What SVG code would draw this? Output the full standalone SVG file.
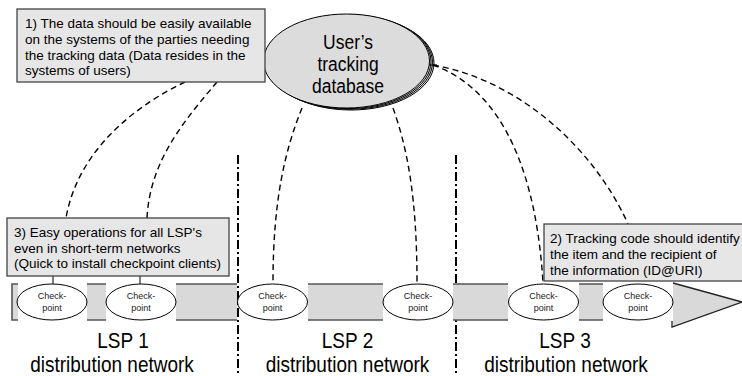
<svg xmlns="http://www.w3.org/2000/svg" width="742" height="376" viewBox="0 0 742 376">
<style>
text{font-family:"Liberation Sans",Arial,sans-serif;fill:#000}
.box{fill:#e6e6e6;stroke:#444;stroke-width:1.3}
.bt{font-size:13.5px}
.cp{fill:#fff;stroke:#000;stroke-width:1}
.ct{font-size:9px;text-anchor:middle;fill:#222}
.seg{fill:#d9d9d9}
.edge{stroke:#555;stroke-width:1.6;fill:none}
.dash{fill:none;stroke:#000;stroke-width:1.4;stroke-dasharray:6 4}
.sep{stroke:#000;stroke-width:2;stroke-dasharray:9 3 2 3;fill:none}
.lsp{font-size:19px;text-anchor:middle}
.dbt{font-size:17.5px;text-anchor:middle}
.db{fill:#dcdcdc;stroke:#000;stroke-width:1}
</style>
<rect width="742" height="376" fill="#fff"/>
<g id="separators">
<line class="sep" x1="238" y1="155" x2="238" y2="376"/>
<line class="sep" x1="456" y1="155" x2="456" y2="376"/>
</g>
<g id="database">
<ellipse class="db" cx="351" cy="63" rx="83" ry="47"/>
<ellipse class="db" cx="349.5" cy="62.3" rx="83" ry="47"/>
<ellipse class="db" cx="348" cy="61.6" rx="83" ry="47"/>
<ellipse class="db" cx="346.5" cy="61" rx="83" ry="47"/>
<text class="dbt" transform="translate(348,49) scale(1,1.2)">User’s</text>
<text class="dbt" transform="translate(348,71) scale(1,1.2)">tracking</text>
<text class="dbt" transform="translate(348,93) scale(1,1.2)">database</text>
</g>
<g id="connectors">
<path class="dash" d="M185,82 C135,106 78,150 66,218"/>
<path class="dash" d="M217,82 C185,120 150,160 147,218"/>
<path class="dash" d="M302,108 C285,150 273,200 273,283"/>
<path class="dash" d="M393,108 C408,150 417,200 417,283"/>
<path class="dash" d="M433,65 C490,85 535,150 543,283"/>
<path class="dash" d="M433,65 C520,80 595,150 628,224"/>
<line x1="429" y1="65" x2="437" y2="65" stroke="#000" stroke-width="1"/>
<line x1="53" y1="276" x2="53" y2="284" stroke="#000" stroke-width="1"/>
<line x1="140" y1="276" x2="140" y2="284" stroke="#000" stroke-width="1"/>
</g>
<g id="box1">
<rect class="box" x="17" y="9" width="248" height="73"/>
<text class="bt" x="25" y="28">1) The data should be easily available</text>
<text class="bt" x="25" y="44">on the systems of the parties needing</text>
<text class="bt" x="25" y="59.5">the tracking data (Data resides in the</text>
<text class="bt" x="25" y="75">systems of users)</text>
</g>
<g id="band">
<rect class="seg" x="12" y="284" width="6" height="36"/>
<rect class="seg" x="87" y="284" width="19" height="36"/>
<rect class="seg" x="176" y="284" width="61" height="36"/>
<rect class="seg" x="308" y="284" width="75" height="36"/>
<rect class="seg" x="453" y="284" width="55" height="36"/>
<rect class="seg" x="579" y="284" width="24" height="36"/>
<path class="edge" d="M18,284 H12 V320 H18 M87,284 H106 M87,320 H106 M176,284 H237 M176,320 H237 M308,284 H383 M308,320 H383 M453,284 H508 M453,320 H508 M579,284 H603 M579,320 H603"/>
<polygon points="673,283 742,302 673,327" fill="#d9d9d9"/>
<polyline points="673,283 742,302 672,327 672,321" fill="none" stroke="#222" stroke-width="1.3"/>
</g>
<g id="cp1"><ellipse class="cp" cx="52" cy="302" rx="35" ry="18"/><text class="ct" x="52" y="299">Check-</text><text class="ct" x="52" y="311">point</text></g>
<g id="cp2"><ellipse class="cp" cx="141" cy="302" rx="35" ry="18"/><text class="ct" x="141" y="299">Check-</text><text class="ct" x="141" y="311">point</text></g>
<g id="cp3"><ellipse class="cp" cx="272.5" cy="302" rx="35" ry="18"/><text class="ct" x="272.5" y="299">Check-</text><text class="ct" x="272.5" y="311">point</text></g>
<g id="cp4"><ellipse class="cp" cx="418" cy="302" rx="35" ry="18"/><text class="ct" x="418" y="299">Check-</text><text class="ct" x="418" y="311">point</text></g>
<g id="cp5"><ellipse class="cp" cx="543.5" cy="302" rx="35" ry="18"/><text class="ct" x="543.5" y="299">Check-</text><text class="ct" x="543.5" y="311">point</text></g>
<g id="cp6"><ellipse class="cp" cx="638" cy="302" rx="35" ry="18"/><text class="ct" x="638" y="299">Check-</text><text class="ct" x="638" y="311">point</text></g>
<g id="box3">
<rect class="box" x="7" y="218" width="222" height="58"/>
<text class="bt" x="14" y="237" font-size="14">3) Easy operations for all LSP's</text>
<text class="bt" x="14" y="252.5" font-size="14">even in short-term networks</text>
<text class="bt" x="14" y="268" font-size="14">(Quick to install checkpoint clients)</text>
</g>
<g id="box2">
<rect class="box" x="544" y="224" width="205" height="57"/>
<text class="bt" x="550" y="243">2) Tracking code should identify</text>
<text class="bt" x="550" y="259">the item and the recipient of</text>
<text class="bt" x="550" y="275">the information (ID@URI)</text>
</g>
<g id="labels">
<text class="lsp" transform="translate(123,348) scale(1,1.15)">LSP 1</text>
<text class="lsp" transform="translate(112,372) scale(1,1.15)">distribution network</text>
<text class="lsp" transform="translate(347.5,348) scale(1,1.15)">LSP 2</text>
<text class="lsp" transform="translate(347.5,372) scale(1,1.15)">distribution network</text>
<text class="lsp" transform="translate(565,348) scale(1,1.15)">LSP 3</text>
<text class="lsp" transform="translate(566,372) scale(1,1.15)">distribution network</text>
</g>
</svg>
